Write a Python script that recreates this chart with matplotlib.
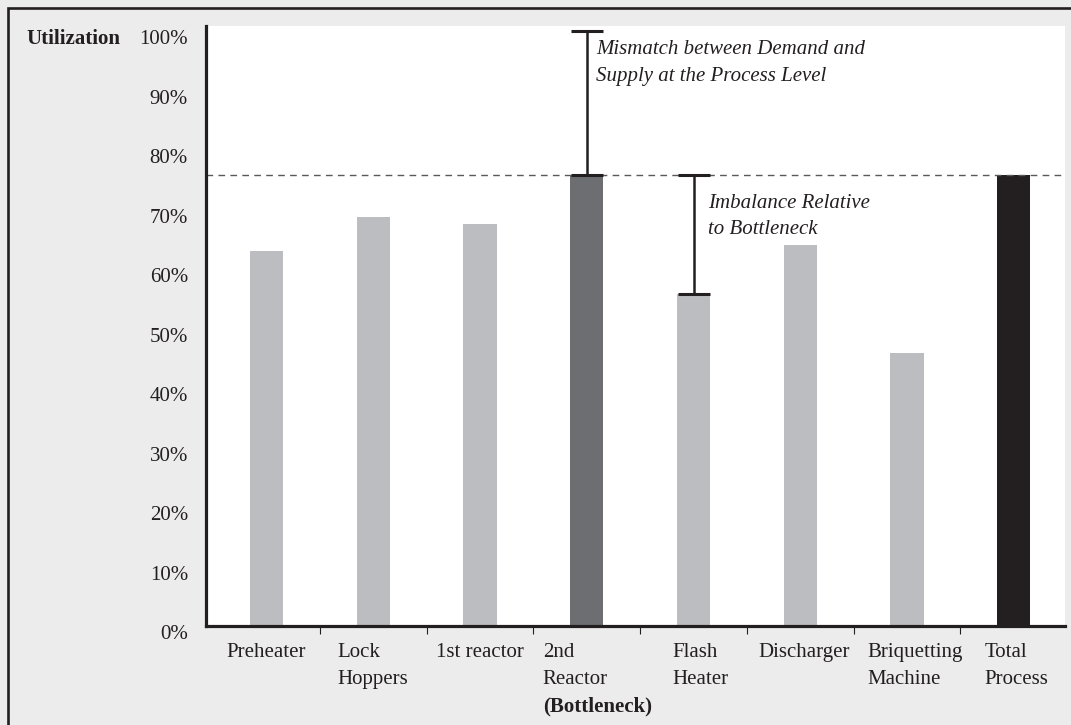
import numpy as np
import matplotlib
matplotlib.use("Agg")
import matplotlib.pyplot as plt
import matplotlib.transforms as mtransforms
from matplotlib.patches import Rectangle

# Process steps and their utilization (%)
categories = ["Preheater", "Lock\nHoppers", "1st reactor", "2nd\nReactor",
              "Flash\nHeater", "Discharger", "Briquetting\nMachine", "Total\nProcess"]
utilization = [62.9, 68.6, 67.4, 75.8, 55.8, 64.0, 45.8, 75.8]
y_ticks = [0, 10, 20, 30, 40, 50, 60, 70, 80, 90, 100]
y_tick_labels = [f"{v}%" for v in y_ticks]

bottleneck_idx = 3
flash_idx = 4
total_idx = 7
demand_level = 100

LIGHT = "#bcbdc0"
DARK = "#6d6e71"
BLACK = "#231f20"
BG = "#ececec"

plt.rcParams["font.family"] = ["Liberation Serif", "DejaVu Serif"]
FS = 15

W, H, DPI = 1071, 725, 100
fig = plt.figure(figsize=(W / DPI, H / DPI), dpi=DPI, facecolor=BG)

def px(x0, y0, x1, y1):
    # pixel box (top-left origin) -> figure fractions
    return [x0 / W, 1 - y1 / H, (x1 - x0) / W, (y1 - y0) / H]

ax = fig.add_axes(px(205.5, 26, 1065, 625.5))
ax.set_facecolor("white")

x = np.arange(len(categories))
colors = [LIGHT] * len(categories)
colors[bottleneck_idx] = DARK
colors[total_idx] = BLACK
ax.bar(x, utilization, width=0.31, color=colors, zorder=2)

ax.set_xlim(-0.572, 7.48)
ax.set_ylim(0, 100.76)

# Bottleneck utilization reference line
bott = utilization[bottleneck_idx]
ln = ax.axhline(bott, color="#58595b", lw=1.0, zorder=3)
ln.set_dashes((4.8, 3.8))

# Spines
for s in ("top", "right"):
    ax.spines[s].set_visible(False)
for s in ("left", "bottom"):
    ax.spines[s].set_linewidth(2.3)
    ax.spines[s].set_color(BLACK)
    ax.spines[s].set_zorder(4)

# Y axis labels
ax.set_yticks(y_ticks)
ax.set_yticklabels(y_tick_labels, fontsize=FS, color=BLACK)
ax.tick_params(axis="y", length=0, pad=12.6)
shift = mtransforms.ScaledTranslation(0, -6.5 / DPI, fig.dpi_scale_trans)
for lab in ax.get_yticklabels():
    lab.set_transform(lab.get_transform() + shift)

fig.text(26 / W, 1 - 37 / H, "Utilization", fontsize=FS, fontweight="bold",
         color=BLACK, ha="left", va="center_baseline")

# X ticks between categories, labels drawn as left-aligned blocks
ax.set_xticks(np.arange(0.5, len(categories) - 1, 1.0))
ax.tick_params(axis="x", direction="out", length=5.5, width=0.8,
               color=BLACK, labelbottom=False)

label_dx = [-40.5, -36, -44, -44, -21, -42, -40, -29.5]
LS = 1.55
for i, (cat, dx) in enumerate(zip(categories, label_dx)):
    ax.annotate(cat, xy=(i, 0), xycoords=("data", "axes fraction"),
                xytext=(dx, -17.5), textcoords="offset pixels",
                ha="left", va="top", fontsize=FS, color=BLACK,
                linespacing=LS, annotation_clip=False)
ax.annotate("(Bottleneck)", xy=(bottleneck_idx, 0),
            xycoords=("data", "axes fraction"),
            xytext=(label_dx[bottleneck_idx], -17.5 - 2 * 26.5),
            textcoords="offset pixels", ha="left", va="top", fontsize=FS,
            fontweight="bold", color=BLACK, annotation_clip=False)

# Gap markers
flash = utilization[flash_idx]
ax.errorbar([bottleneck_idx], [bott], yerr=[[0], [demand_level - bott]],
            fmt="none", ecolor=BLACK, elinewidth=1.8, capsize=11.5,
            capthick=2.2, zorder=5)
ax.errorbar([flash_idx], [flash], yerr=[[0], [bott - flash]],
            fmt="none", ecolor=BLACK, elinewidth=1.8, capsize=11.5,
            capthick=2.2, zorder=5)

ax.annotate("Mismatch between Demand and\nSupply at the Process Level",
            xy=(bottleneck_idx, demand_level), xytext=(9.5, -9.5),
            textcoords="offset pixels", ha="left", va="top", fontsize=FS,
            style="italic", color=BLACK, linespacing=LS)
ax.annotate("Imbalance Relative\nto Bottleneck",
            xy=(flash_idx, bott), xytext=(14.5, -19),
            textcoords="offset pixels", ha="left", va="top", fontsize=FS,
            style="italic", color=BLACK, linespacing=LS)

# Outer frame
fig.patches.append(Rectangle((8 / W, -0.05), 1.1, 1.05 - 8.5 / H,
                             transform=fig.transFigure, fill=False,
                             edgecolor=BLACK, lw=1.9, clip_on=False))

fig.savefig("out.png", dpi=DPI, facecolor=BG)
